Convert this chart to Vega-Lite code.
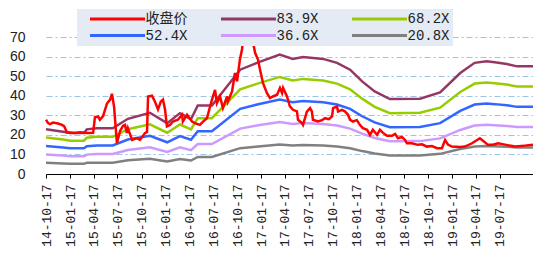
{
  "$schema": "https://vega.github.io/schema/vega-lite/v6.json",
  "width": 487,
  "height": 137,
  "autosize": "none",
  "padding": {"left": 46, "top": 37, "right": 0, "bottom": 79},
  "background": "white",
  "config": {"view": {"stroke": null}},
  "datasets": {
    "price": [
      {"d":"2014/10/17","v":27.7},{"d":"2014/10/25","v":26},{"d":"2014/11/01","v":25.5},{"d":"2014/11/13","v":26.3},
      {"d":"2014/12/02","v":25.8},{"d":"2014/12/17","v":25.1},{"d":"2014/12/25","v":24.5},{"d":"2015/01/05","v":21.3},
      {"d":"2015/02/05","v":21.0},{"d":"2015/02/24","v":21.3},{"d":"2015/03/23","v":20.9},{"d":"2015/04/15","v":21.0},
      {"d":"2015/04/22","v":29.0},{"d":"2015/05/04","v":29.4},{"d":"2015/05/11","v":27.7},{"d":"2015/05/23","v":29.6},
      {"d":"2015/06/07","v":36},{"d":"2015/06/19","v":38},{"d":"2015/06/26","v":41},{"d":"2015/07/04","v":34.5},
      {"d":"2015/07/15","v":15.8},{"d":"2015/07/27","v":22},{"d":"2015/08/07","v":24.5},{"d":"2015/08/15","v":25.1},
      {"d":"2015/08/22","v":21},{"d":"2015/08/26","v":23.4},{"d":"2015/09/11","v":17.4},{"d":"2015/09/30","v":18.3},
      {"d":"2015/10/11","v":17.4},{"d":"2015/10/30","v":20.9},{"d":"2015/11/07","v":21.5},{"d":"2015/11/11","v":39.6},
      {"d":"2015/11/26","v":40.0},{"d":"2015/12/07","v":37.1},{"d":"2015/12/19","v":33},{"d":"2015/12/30","v":37.1},
      {"d":"2016/01/07","v":38},{"d":"2016/01/15","v":32.8},{"d":"2016/01/22","v":24.3},{"d":"2016/02/03","v":25.1},
      {"d":"2016/02/14","v":26.8},{"d":"2016/03/04","v":27.7},{"d":"2016/03/20","v":30.3},{"d":"2016/03/23","v":26.8},
      {"d":"2016/04/08","v":30.3},{"d":"2016/04/27","v":26.8},{"d":"2016/05/08","v":26},{"d":"2016/05/27","v":25.1},
      {"d":"2016/06/08","v":26.8},{"d":"2016/06/23","v":28.5},{"d":"2016/07/05","v":34.5},{"d":"2016/07/12","v":37.9},
      {"d":"2016/07/24","v":43},{"d":"2016/07/31","v":36.2},{"d":"2016/08/12","v":39.6},{"d":"2016/08/23","v":33.7},
      {"d":"2016/09/08","v":39.6},{"d":"2016/09/11","v":37},{"d":"2016/09/27","v":42.2},{"d":"2016/10/08","v":51.6},
      {"d":"2016/10/16","v":47.3},{"d":"2016/10/27","v":58.5},{"d":"2016/11/04","v":63.6},{"d":"2016/11/08","v":68.7},
      {"d":"2016/11/19","v":76},{"d":"2016/12/01","v":78},{"d":"2016/12/12","v":70},{"d":"2016/12/24","v":61.9},
      {"d":"2017/01/04","v":58.5},{"d":"2017/01/12","v":53.3},{"d":"2017/01/23","v":46.5},{"d":"2017/02/07","v":41.4},
      {"d":"2017/02/19","v":38.8},{"d":"2017/03/02","v":39.6},{"d":"2017/03/18","v":40.5},{"d":"2017/03/29","v":44},
      {"d":"2017/04/06","v":41.4},{"d":"2017/04/10","v":44},{"d":"2017/04/25","v":39.6},{"d":"2017/05/06","v":34.5},
      {"d":"2017/05/18","v":32.8},{"d":"2017/06/02","v":32},{"d":"2017/06/06","v":27.7},{"d":"2017/06/21","v":26},
      {"d":"2017/06/25","v":25.1},{"d":"2017/07/10","v":31.9},{"d":"2017/07/22","v":33.7},{"d":"2017/07/29","v":32},
      {"d":"2017/08/02","v":27.7},{"d":"2017/08/21","v":26.8},{"d":"2017/09/06","v":27.5},{"d":"2017/09/17","v":28.5},
      {"d":"2017/10/02","v":28},{"d":"2017/10/14","v":29.4},{"d":"2017/10/18","v":33.7},{"d":"2017/11/02","v":34.5},
      {"d":"2017/11/06","v":31.9},{"d":"2017/11/21","v":32.8},{"d":"2017/12/02","v":32},{"d":"2017/12/14","v":30.3},
      {"d":"2017/12/22","v":27.7},{"d":"2018/01/02","v":26.8},{"d":"2018/01/17","v":27.5},{"d":"2018/01/29","v":25},
      {"d":"2018/02/09","v":23.4},{"d":"2018/02/25","v":22.6},{"d":"2018/03/08","v":20},{"d":"2018/03/19","v":22.6},
      {"d":"2018/04/04","v":20},{"d":"2018/04/15","v":22.6},{"d":"2018/04/27","v":21},{"d":"2018/05/12","v":19.5},
      {"d":"2018/05/31","v":19.5},{"d":"2018/06/12","v":20.5},{"d":"2018/06/23","v":18.3},{"d":"2018/07/08","v":19},
      {"d":"2018/07/20","v":17.4},{"d":"2018/07/27","v":15.7},{"d":"2018/08/15","v":15.7},{"d":"2018/09/07","v":14.9},
      {"d":"2018/09/23","v":15.2},{"d":"2018/10/12","v":14},{"d":"2018/10/31","v":14.3},{"d":"2018/11/19","v":13.2},
      {"d":"2018/12/08","v":13.2},{"d":"2018/12/20","v":17.4},{"d":"2018/12/31","v":15},{"d":"2019/01/15","v":14},
      {"d":"2019/02/15","v":13.8},{"d":"2019/03/06","v":14},{"d":"2019/04/02","v":15.7},{"d":"2019/05/02","v":18.3},
      {"d":"2019/05/14","v":17},{"d":"2019/06/02","v":14.9},{"d":"2019/06/21","v":15},{"d":"2019/07/10","v":15.7},
      {"d":"2019/08/06","v":15},{"d":"2019/09/13","v":14},{"d":"2019/10/21","v":14.5},{"d":"2019/11/21","v":14.9}
    ],
    "bands": [
      {"d":"2014/10/17","A":22.9,"B":18.6,"C":14.3,"D":10.0,"E":5.7},
      {"d":"2014/12/21","A":21.6,"B":17.6,"C":13.5,"D":9.4,"E":5.4},
      {"d":"2015/01/17","A":20.9,"B":17.0,"C":13.1,"D":9.1,"E":5.2},
      {"d":"2015/03/11","A":20.9,"B":17.0,"C":13.1,"D":9.1,"E":5.2},
      {"d":"2015/03/22","A":22.8,"B":18.5,"C":14.2,"D":9.9,"E":5.7},
      {"d":"2015/04/29","A":23.4,"B":19.0,"C":14.6,"D":10.2,"E":5.8},
      {"d":"2015/06/29","A":23.4,"B":19.0,"C":14.6,"D":10.2,"E":5.8},
      {"d":"2015/08/26","A":28.2,"B":22.9,"C":17.6,"D":12.3,"E":7.0},
      {"d":"2015/11/18","A":31.3,"B":25.4,"C":19.5,"D":13.7,"E":7.8},
      {"d":"2016/01/23","A":26.0,"B":21.1,"C":16.2,"D":11.3,"E":6.4},
      {"d":"2016/03/12","A":31.1,"B":25.3,"C":19.4,"D":13.6,"E":7.7},
      {"d":"2016/04/23","A":28.0,"B":22.8,"C":17.5,"D":12.2,"E":6.9},
      {"d":"2016/05/19","A":35.0,"B":28.5,"C":21.9,"D":15.3,"E":8.7},
      {"d":"2016/07/12","A":35.0,"B":28.5,"C":21.9,"D":15.3,"E":8.7},
      {"d":"2016/10/28","A":53.3,"B":43.3,"C":33.3,"D":23.2,"E":13.2},
      {"d":"2017/01/05","A":57.0,"B":46.3,"C":35.6,"D":24.9,"E":14.1},
      {"d":"2017/03/28","A":61.0,"B":49.6,"C":38.1,"D":26.6,"E":15.1},
      {"d":"2017/05/17","A":58.8,"B":47.8,"C":36.7,"D":25.6,"E":14.6},
      {"d":"2017/06/25","A":59.8,"B":48.6,"C":37.3,"D":26.1,"E":14.8},
      {"d":"2017/09/10","A":58.8,"B":47.8,"C":36.7,"D":25.6,"E":14.6},
      {"d":"2017/11/02","A":56.8,"B":46.2,"C":35.5,"D":24.8,"E":14.1},
      {"d":"2017/12/22","A":53.3,"B":43.3,"C":33.3,"D":23.2,"E":13.2},
      {"d":"2018/02/06","A":47.3,"B":38.5,"C":29.5,"D":20.6,"E":11.7},
      {"d":"2018/03/26","A":42.2,"B":34.3,"C":26.4,"D":18.4,"E":10.5},
      {"d":"2018/05/23","A":38.3,"B":31.1,"C":23.9,"D":16.7,"E":9.5},
      {"d":"2018/09/15","A":38.5,"B":31.3,"C":24.0,"D":16.8,"E":9.5},
      {"d":"2018/12/01","A":41.7,"B":33.9,"C":26.0,"D":18.2,"E":10.3},
      {"d":"2019/02/16","A":51.6,"B":41.9,"C":32.2,"D":22.5,"E":12.8},
      {"d":"2019/04/12","A":56.8,"B":46.2,"C":35.5,"D":24.8,"E":14.1},
      {"d":"2019/05/28","A":57.6,"B":46.8,"C":36.0,"D":25.1,"E":14.3},
      {"d":"2019/06/28","A":57.1,"B":46.4,"C":35.7,"D":24.9,"E":14.2},
      {"d":"2019/08/13","A":56.2,"B":45.7,"C":35.1,"D":24.5,"E":13.9},
      {"d":"2019/09/21","A":55.0,"B":44.7,"C":34.3,"D":24.0,"E":13.6},
      {"d":"2019/11/21","A":55.0,"B":44.7,"C":34.3,"D":24.0,"E":13.6}
    ]
  },
  "encoding": {
    "x": {
      "field": "d", "type": "temporal", "title": null,
      "scale": {"domain": [{"year":2014,"month":10,"date":17},{"year":2019,"month":11,"date":21}]},
      "axis": {
        "values": [
          {"year":2014,"month":10,"date":17},
          {"year":2015,"month":1,"date":17},{"year":2015,"month":4,"date":17},{"year":2015,"month":7,"date":17},{"year":2015,"month":10,"date":17},
          {"year":2016,"month":1,"date":17},{"year":2016,"month":4,"date":17},{"year":2016,"month":7,"date":17},{"year":2016,"month":10,"date":17},
          {"year":2017,"month":1,"date":17},{"year":2017,"month":4,"date":17},{"year":2017,"month":7,"date":17},{"year":2017,"month":10,"date":17},
          {"year":2018,"month":1,"date":17},{"year":2018,"month":4,"date":17},{"year":2018,"month":7,"date":17},{"year":2018,"month":10,"date":17},
          {"year":2019,"month":1,"date":17},{"year":2019,"month":4,"date":17},{"year":2019,"month":7,"date":17}
        ],
        "format": "%y-%m-%d",
        "labelAngle": -90,
        "labelFont": "Liberation Mono",
        "labelFontSize": 13,
        "labelColor": "#222222",
        "labelPadding": 6,
        "labelOverlap": false,
        "labelFlush": false,
        "grid": false,
        "domainColor": "#000000",
        "domainWidth": 1,
        "tickColor": "#000000",
        "tickSize": 4
      }
    },
    "y": {
      "field": "v", "type": "quantitative", "title": null,
      "scale": {"domain": [0, 70], "nice": false},
      "axis": {
        "values": [0,10,20,30,40,50,60,70],
        "domain": false,
        "ticks": false,
        "labelPadding": 21,
        "labelFont": "Liberation Sans",
        "labelFontSize": 14,
        "labelColor": "#222222",
        "gridColor": "#9dc3e6",
        "gridDash": [6,3,2,3],
        "gridWidth": 1
      }
    }
  },
  "layer": [
    {
      "data": {"name": "bands"},
      "transform": [{"fold": ["A","B","C","D","E"], "as": ["s","v"]}],
      "mark": {"type": "line", "strokeWidth": 2.5, "clip": false},
      "encoding": {
        "color": {
          "field": "s", "type": "nominal",
          "scale": {"domain": ["P","A","B","C","D","E"], "range": ["#ff0000","#953765","#99cc00","#3366ff","#cc99ff","#808080"]},
          "legend": {
            "title": null,
            "orient": "none",
            "legendX": 31,
            "legendY": -28,
            "direction": "horizontal",
            "columns": 3,
            "gridAlign": "all",
            "symbolType": "M-5,0H5",
            "symbolSize": 121,
            "symbolStrokeWidth": 3,
            "symbolOffset": 30.5,
            "labelOffset": 21,
            "columnPadding": 23,
            "rowPadding": 2.5,
            "padding": 3,
            "fillColor": "#e4ebf4",
            "labelFont": "Liberation Mono, Noto Sans CJK SC",
            "labelFontSize": 14,
            "labelColor": "#222222",
            "labelExpr": "{'P':'收盘价','A':'83.9X','B':'68.2X','C':'52.4X','D':'36.6X','E':'20.8X'}[datum.label]"
          }
        }
      }
    },
    {
      "data": {"name": "price"},
      "mark": {"type": "line", "strokeWidth": 2.5, "clip": false},
      "encoding": {"color": {"datum": "P"}}
    }
  ]
}
